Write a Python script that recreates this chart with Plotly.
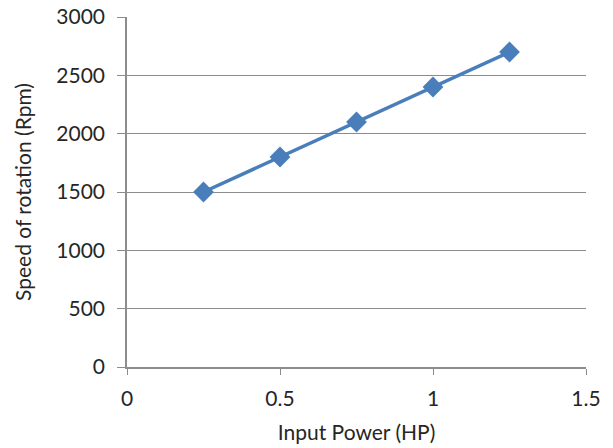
import plotly.graph_objects as go

power_hp = [0.25, 0.5, 0.75, 1.0, 1.25]
speed_rpm = [1500, 1800, 2100, 2400, 2700]

x_ticks = [0, 0.5, 1, 1.5]
x_tick_labels = ["0", "0.5", "1", "1.5"]
y_ticks = [0, 500, 1000, 1500, 2000, 2500, 3000]

fig = go.Figure()
fig.add_trace(go.Scatter(
    x=power_hp, y=speed_rpm, mode="lines+markers",
    line=dict(color="#4A7EBB", width=3.5),
    marker=dict(symbol="diamond", size=16, color="#4A7EBB"),
    showlegend=False,
))

font = dict(family="Lato, Open Sans, sans-serif", size=21, color="#262626")
fig.update_layout(
    template="none",
    width=613, height=448,
    margin=dict(l=127, r=27, t=17, b=81),
    paper_bgcolor="white", plot_bgcolor="white",
    font=font,
    xaxis=dict(
        range=[0, 1.5], tickvals=x_ticks, ticktext=x_tick_labels,
        showgrid=False, zeroline=False, automargin=False,
        showline=True, linecolor="#8C8C8C", linewidth=1.5,
        ticks="outside", ticklen=6, tickcolor="#8C8C8C",
        ticklabelstandoff=6,
        title=dict(text="Input Power (HP)", standoff=16, font=dict(size=21)),
    ),
    yaxis=dict(
        range=[0, 3000], tickvals=y_ticks,
        showgrid=True, gridcolor="#8C8C8C", gridwidth=1,
        zeroline=False, automargin=False,
        showline=True, linecolor="#8C8C8C", linewidth=1.5,
        ticks="outside", ticklen=8, tickcolor="#8C8C8C",
        ticklabelstandoff=8,
        title=dict(text="Speed of rotation (Rpm)", standoff=19, font=dict(size=21)),
    ),
)
fig.write_html("out.html")
